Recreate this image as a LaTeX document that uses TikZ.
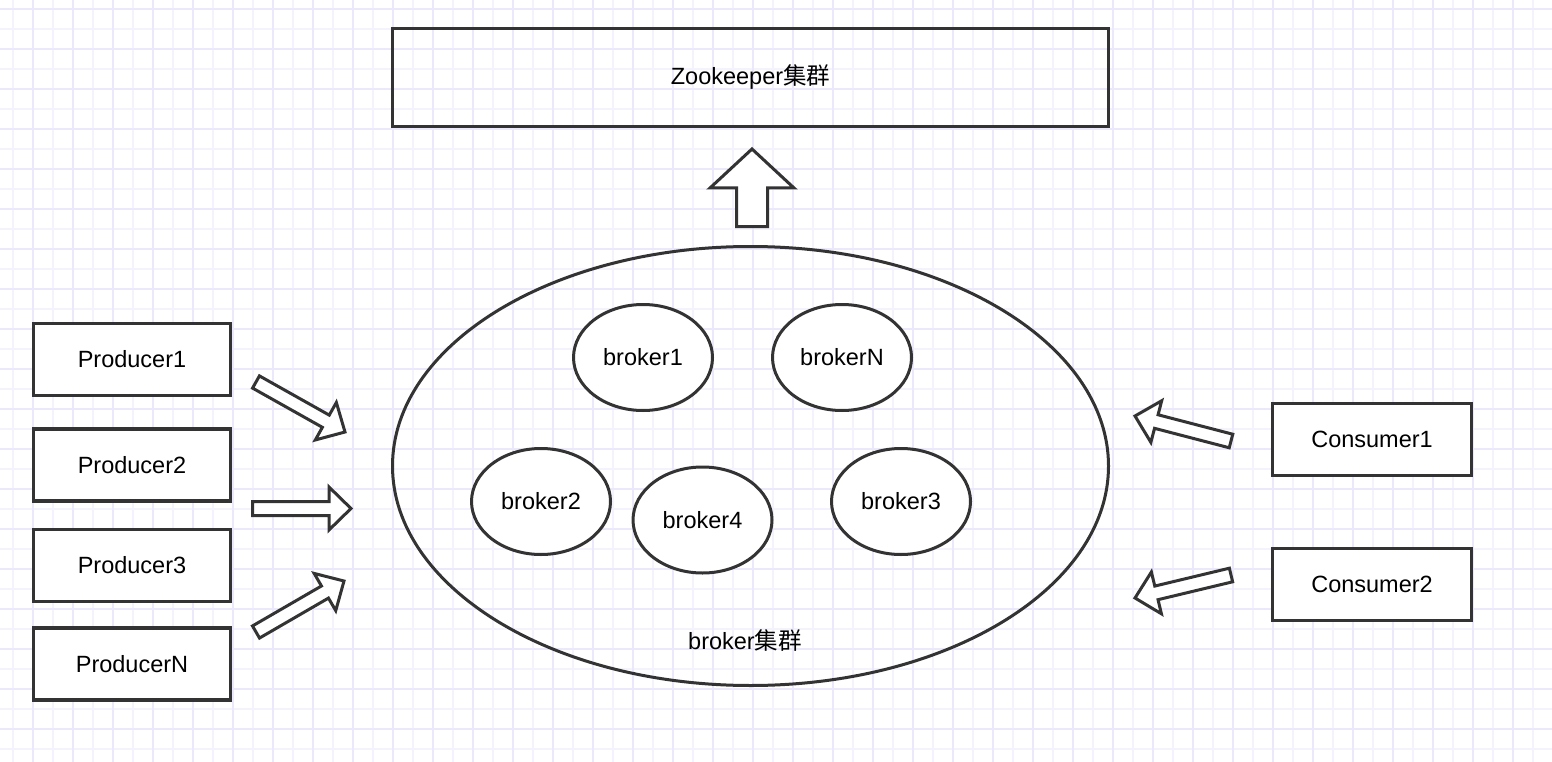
\documentclass[tikz,border=0pt]{standalone}
\usepackage{fontspec}
\setmainfont{Liberation Sans}
\newfontfamily\cjk{Noto Sans CJK SC}
\usetikzlibrary{calc,shapes.geometric}
\definecolor{edge}{HTML}{333333}
\definecolor{gridmajor}{HTML}{EAE8FA}
\definecolor{gridminor}{HTML}{F4F3FD}
% tail, tip, half shaft width, half head width, head length
\newcommand{\blockarrow}[5]{%
  \coordinate (ba-b) at ($(#2)!#5!(#1)$);
  \draw[blockarr] ($(#1)!#3!90:(#2)$) -- ($(ba-b)!#3!90:(#2)$) -- ($(ba-b)!#4!90:(#2)$) -- (#2)
    -- ($(ba-b)!#4!-90:(#2)$) -- ($(ba-b)!#3!-90:(#2)$) -- ($(#1)!#3!-90:(#2)$) -- cycle;}
\begin{document}
\begin{tikzpicture}[x=1pt,y=-1pt,
  font=\fontsize{23.5}{28}\selectfont,
  box/.style={draw=edge, line width=3.3pt, fill=white, minimum width=197pt, minimum height=72pt, inner sep=0pt},
  zbox/.style={draw=edge, line width=3pt, minimum width=716pt, minimum height=98pt, inner sep=0pt},
  cluster/.style={ellipse, draw=edge, line width=3pt, minimum width=716pt, minimum height=439pt, inner sep=0pt},
  brokerbox/.style={ellipse, draw=edge, line width=3pt, fill=white, minimum width=139pt, minimum height=106pt, inner sep=0pt},
  blockarr/.style={draw=edge, line width=3pt, fill=white, line join=miter},
  gmin/.style={draw=gridminor, line width=1.4pt},
  gmaj/.style={draw=gridmajor, line width=1.4pt}]
\useasboundingbox (0,0) rectangle (1552,762);
\fill[white] (0,0) rectangle (1552,762);
% grid
\foreach \x in {13,53,...,1553} \draw[gmin] (\x,0) -- (\x,762);
\foreach \y in {29,69,...,762} \draw[gmin] (0,\y) -- (1552,\y);
\foreach \x in {33,73,...,1553} \draw[gmaj] (\x,0) -- (\x,762);
\foreach \y in {9,49,...,762} \draw[gmaj] (0,\y) -- (1552,\y);

% zookeeper
\node[zbox] (zk) at (750.5,77.5) {Zookeeper{\cjk 集群}};

% cluster
\node[cluster] (cl) at (750.5,466) {};
\node (cllabel) at (745,641) {broker{\cjk 集群}};
\node[brokerbox] (b1) at (643,357.5) {broker1};
\node[brokerbox] (bN) at (842,357.5) {brokerN};
\node[brokerbox] (b2) at (541,501.5) {broker2};
\node[brokerbox] (b4) at (702.5,520) {broker4};
\node[brokerbox] (b3) at (901,501.5) {broker3};

% producers
\node[box] (p1) at (132,359.5) {Producer1};
\node[box] (p2) at (132,465) {Producer2};
\node[box] (p3) at (132,565.5) {Producer3};
\node[box] (pN) at (132,664) {ProducerN};

% consumers
\node[box, minimum width=199pt] (c1) at (1372,439.5) {Consumer1};
\node[box, minimum width=199pt] (c2) at (1372,584.5) {Consumer2};

% arrow end points
\coordinate (upt) at (752,226.5);
\coordinate (uph) at (752,149);
\coordinate (p1t) at (256,382);
\coordinate (p1h) at (345,432);
\coordinate (p2t) at (252.5,508.5);
\coordinate (p2h) at (351,508.5);
\coordinate (pNt) at (256,632);
\coordinate (pNh) at (344,581);
\coordinate (c1t) at (1231,441);
\coordinate (c1h) at (1135,416);
\coordinate (c2t) at (1231,575);
\coordinate (c2h) at (1135,598);

\blockarrow{upt}{uph}{15.5pt}{42pt}{39pt}
\blockarrow{p1t}{p1h}{7pt}{21.5pt}{22pt}
\blockarrow{p2t}{p2h}{7pt}{21.5pt}{22pt}
\blockarrow{pNt}{pNh}{7pt}{21.5pt}{22pt}
\blockarrow{c1t}{c1h}{7pt}{21.5pt}{22pt}
\blockarrow{c2t}{c2h}{7pt}{21.5pt}{22pt}
\end{tikzpicture}
\end{document}
